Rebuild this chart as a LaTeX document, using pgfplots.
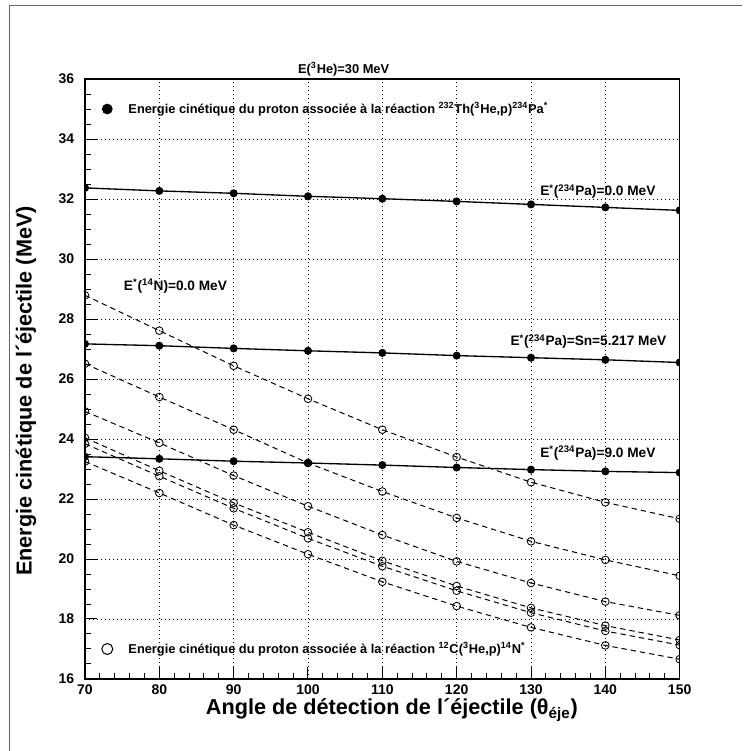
\documentclass[border=0pt]{standalone}
\usepackage{fontspec}
\setmainfont{Liberation Sans}
\usepackage{pgfplots}
\pgfplotsset{compat=1.18}
\begin{document}
\begin{tikzpicture}[font=\bfseries]
\begin{axis}[
  at={(0,0)}, anchor=south west,
  width=356.8pt, height=360pt, scale only axis,
  xmin=70, xmax=150, ymin=16, ymax=36,
  xtick={70,80,...,150}, ytick={16,18,...,36},
  minor x tick num=4, minor y tick num=3,
  tick align=inside, xtick pos=bottom, ytick pos=left,
  major tick length=7.2pt, minor tick length=3.6pt,
  grid=major, major grid style={black, dotted, line width=0.5pt},
  axis line style={line width=0.8pt},
  tick style={black, line width=0.6pt},
  ticklabel style={font=\fontsize{8.4}{10}\selectfont\bfseries},
  yticklabel style={xshift=-3pt},
  /pgf/number format/assume math mode=true,
  clip mode=individual,
  clip marker paths=true,
  pa/.style={black, solid, line width=0.8pt, mark=*, mark size=2pt},
  nn/.style={black, line width=0.6pt, dash pattern=on 3.2pt off 2.4pt, mark=o, mark size=2.3pt, mark options={solid, line width=0.5pt}},
]
% 232Th(3He,p)234Pa
\addplot[pa] coordinates {(70,32.37)(80,32.27)(90,32.19)(100,32.09)(110,32.01)(120,31.92)(130,31.82)(140,31.72)(150,31.62)};
\addplot[pa] coordinates {(70,27.17)(80,27.11)(90,27.02)(100,26.94)(110,26.87)(120,26.78)(130,26.71)(140,26.64)(150,26.55)};
\addplot[pa] coordinates {(70,23.41)(80,23.34)(90,23.26)(100,23.20)(110,23.13)(120,23.05)(130,22.98)(140,22.92)(150,22.88)};
% 12C(3He,p)14N
\addplot[nn] coordinates {(70,28.79)(80,27.61)(90,26.44)(100,25.34)(110,24.31)(120,23.40)(130,22.56)(140,21.89)(150,21.34)};
\addplot[nn] coordinates {(70,26.51)(80,25.40)(90,24.31)(100,23.20)(110,22.25)(120,21.37)(130,20.59)(140,19.97)(150,19.44)};
\addplot[nn] coordinates {(70,24.92)(80,23.87)(90,22.78)(100,21.76)(110,20.80)(120,19.92)(130,19.20)(140,18.58)(150,18.12)};
\addplot[nn] coordinates {(70,24.04)(80,22.94)(90,21.87)(100,20.89)(110,19.94)(120,19.10)(130,18.37)(140,17.78)(150,17.30)};
\addplot[nn] coordinates {(70,23.84)(80,22.76)(90,21.69)(100,20.69)(110,19.76)(120,18.94)(130,18.21)(140,17.60)(150,17.13)};
\addplot[nn] coordinates {(70,23.25)(80,22.20)(90,21.13)(100,20.16)(110,19.24)(120,18.43)(130,17.72)(140,17.12)(150,16.66)};
% legend markers
\addplot[only marks, mark=*, mark size=3pt] coordinates {(73.0,35.0)};
\addplot[only marks, mark=o, mark size=3.3pt, mark options={line width=0.6pt}] coordinates {(73.0,17.0)};
% legend texts
\node[anchor=west, inner sep=0, font=\fontsize{7.7}{9}\selectfont\bfseries] at (axis cs:75.8,35.0)
  {Energie cinétique du proton associée à la réaction \textsuperscript{232}Th(\textsuperscript{3}He,p)\textsuperscript{234}Pa\textsuperscript{*}};
\node[anchor=west, inner sep=0, font=\fontsize{7.7}{9}\selectfont\bfseries] at (axis cs:75.8,17.0)
  {Energie cinétique du proton associée à la réaction \textsuperscript{12}C(\textsuperscript{3}He,p)\textsuperscript{14}N\textsuperscript{*}};
% curve labels
\node[anchor=west, inner sep=0, font=\fontsize{8.2}{10}\selectfont\bfseries] at (axis cs:131.2,32.25)
  {E\textsuperscript{*}(\textsuperscript{234}Pa)=0.0 MeV};
\node[anchor=west, inner sep=0, font=\fontsize{8.2}{10}\selectfont\bfseries] at (axis cs:127.2,27.25)
  {E\textsuperscript{*}(\textsuperscript{234}Pa)=Sn=5.217 MeV};
\node[anchor=west, inner sep=0, font=\fontsize{8.2}{10}\selectfont\bfseries] at (axis cs:131.2,23.53)
  {E\textsuperscript{*}(\textsuperscript{234}Pa)=9.0 MeV};
\node[anchor=west, inner sep=0, font=\fontsize{8.2}{10}\selectfont\bfseries] at (axis cs:75.2,29.1)
  {E\textsuperscript{*}(\textsuperscript{14}N)=0.0 MeV};
% title and axis labels
\node[font=\fontsize{7.7}{9}\selectfont\bfseries, inner sep=0] at ([yshift=6pt]rel axis cs:0.435,1)
  {E(\textsuperscript{3}He)=30 MeV};
\node[font=\fontsize{13}{15}\selectfont\bfseries, inner sep=0] at ([yshift=-18.6pt]rel axis cs:0.516,0)
  {Angle de détection de l´éjectile (θ\textsubscript{éje})};
\node[font=\fontsize{13}{15}\selectfont\bfseries, inner sep=0, rotate=90] at ([xshift=-35.4pt]rel axis cs:0,0.48)
  {Energie cinétique de l´éjectile (MeV)};
\end{axis}
\draw[black!60, line width=0.6pt] (-45pt,-43.2pt) -- (-45pt,403.8pt) -- (394pt,403.8pt);
\pgfresetboundingbox
\useasboundingbox (-51pt,-43.2pt) rectangle (396pt,407.4pt);
\end{tikzpicture}
\end{document}
